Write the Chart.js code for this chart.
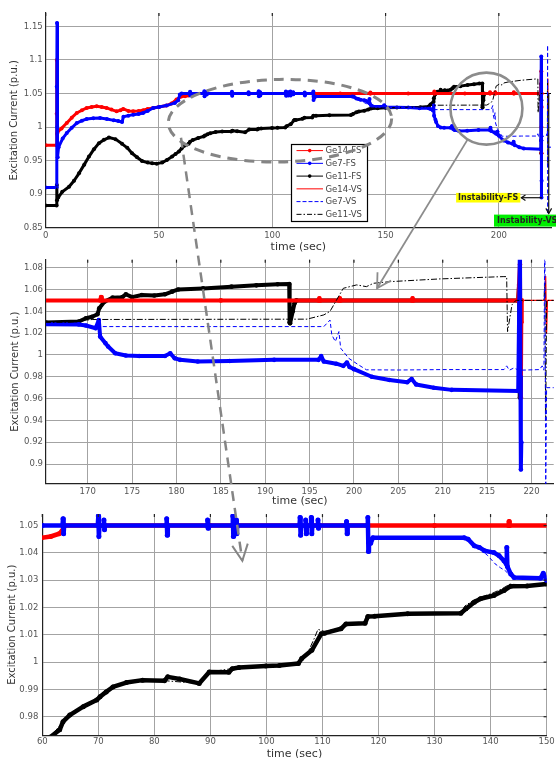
<!DOCTYPE html>
<html><head><meta charset="utf-8">
<script src="https://cdn.jsdelivr.net/npm/chart.js@4.4.1/dist/chart.umd.min.js"></script>
<style>
html,body{margin:0;padding:0;background:#fff;width:556px;height:758px;overflow:hidden;}
canvas{position:absolute;left:0;}
</style></head><body>
<canvas id="c1" width="556" height="258" style="top:0px"></canvas>
<canvas id="c2" width="556" height="262" style="top:250px"></canvas>
<canvas id="c3" width="556" height="258" style="top:505px"></canvas>
<canvas id="ov" width="556" height="758" style="top:0px;pointer-events:none"></canvas>
<script>
// ---------------- data (time [s], excitation current [p.u.]) ----------------
const SERIES_NAMES = ['Ge14-FS','Ge7-FS','Ge11-FS','Ge14-VS','Ge7-VS','Ge11-VS'];
const X_TITLE = 'time (sec)';
const Y_TITLE = 'Excitation Current (p.u.)';

const ge14FS = [[0,0.973],[4.8,0.973],[4.85,1.02],[4.9,1.1],[4.95,1.06],[5.0,0.99],[5.3,0.993],[7.0,0.998],[9.3,1.006],[11.5,1.014],[13.7,1.021],[16.0,1.025],[18.1,1.0285],[20.3,1.030],[22.5,1.031],[24.7,1.030],[26.9,1.0285],[29.0,1.026],[31.3,1.0234],[33.0,1.025],[34.2,1.027],[36.5,1.024],[38.6,1.0234],[41.0,1.024],[43.0,1.025],[45.0,1.027],[47.4,1.0285],[50.0,1.030],[53.3,1.032],[55.5,1.035],[57.7,1.041],[59.9,1.0455],[61.5,1.046],[63.0,1.047],[63.5,1.048],[64.0,1.05],[90,1.05],[118,1.05],[130,1.05],[143.2,1.05],[143.3,1.0515],[143.4,1.05],[160,1.05],[171.4,1.05],[171.5,1.053],[171.6,1.05],[185,1.05],[196.0,1.05],[196.1,1.052],[196.2,1.05],[198.3,1.05],[198.4,1.052],[198.5,1.05],[206.5,1.05],[206.6,1.052],[206.7,1.05],[218.5,1.05],[218.7,1.083],[218.75,1.0],[218.8,0.961],[218.85,1.03],[218.9,1.05]];

const ge7FS = [[0,0.91],[4.8,0.91],[4.9,1.06],[5.0,1.155],[5.1,1.0],[5.3,0.955],[5.7,0.97],[7.5,0.983],[9.3,0.991],[11.5,0.999],[13.7,1.006],[16.0,1.0095],[18.1,1.012],[21.0,1.013],[24.0,1.0135],[27.0,1.012],[30.0,1.010],[32.0,1.009],[33.7,1.0075],[34.3,1.0155],[36.5,1.017],[38.6,1.0185],[41.0,1.0195],[43.0,1.021],[45.0,1.024],[47.4,1.0285],[50.0,1.030],[53.3,1.032],[57.0,1.036],[58.5,1.040],[59.2,1.0485],[60.0,1.05],
[63.6,1.05],[63.7,1.0525],[63.8,1.047],[63.9,1.05],[69.9,1.05],[70.0,1.0535],[70.1,1.046],[70.2,1.05],[70.9,1.05],[71.0,1.052],[71.1,1.0485],[71.2,1.05],[82.1,1.05],[82.2,1.0525],[82.3,1.0465],[82.4,1.05],[89.4,1.05],[89.5,1.052],[89.6,1.049],[89.7,1.05],[93.9,1.05],[94.0,1.0535],[94.1,1.046],[94.2,1.05],[94.5,1.05],[94.6,1.052],[94.7,1.047],[94.8,1.05],[105.9,1.05],[106.0,1.053],[106.1,1.0465],[106.2,1.05],[106.9,1.05],[107.0,1.052],[107.1,1.047],[107.2,1.05],[107.9,1.05],[108.0,1.053],[108.1,1.047],[108.2,1.05],[109.1,1.05],[109.2,1.052],[109.3,1.049],[109.4,1.05],[114.2,1.05],[114.3,1.0515],[114.4,1.047],[114.5,1.05],
[118.0,1.05],[118.1,1.053],[118.2,1.0405],[118.3,1.045],[118.6,1.0435],[119.0,1.0455],[135.3,1.0455],[136.0,1.045],[137.1,1.0426],[138.0,1.042],[138.9,1.0408],[140.6,1.0401],[141.5,1.039],[142.4,1.0371],[142.8,1.036],[142.9,1.042],[143.0,1.035],[143.6,1.0323],[144.2,1.031],[148.9,1.0307],[149.4,1.0325],[150.0,1.030],
[160,1.029],[165,1.0282],[169,1.028],[169.8,1.027],[170.9,1.0245],[171.25,1.032],[171.4,1.0168],[172.0,1.0108],[172.3,1.0077],[173.1,1.0016],[174.3,0.9995],[175.8,0.999],[178.7,0.999],[179.3,1.0015],[179.8,0.997],[180.4,0.9955],[182.4,0.994],[186,0.9945],[191,0.9955],[196,0.9955],[196.3,0.999],[196.6,0.994],[198,0.992],[198.8,0.990],[199.2,0.993],[199.5,0.989],[200,0.987],[202,0.980],[204,0.977],[206,0.975],[206.5,0.978],[207,0.973],[209,0.970],[211,0.968],[218.5,0.967],[218.7,1.105],[218.75,0.98],[218.8,0.895],[218.85,0.92]];

const ge11FS = [[0,0.883],[4.8,0.883],[4.9,0.9135],[5.0,0.891],[5.5,0.895],[7.3,0.9034],[10.3,0.911],[12.5,0.92],[14.7,0.931],[17.0,0.944],[19.1,0.956],[21.3,0.967],[23.5,0.976],[25.7,0.981],[27.9,0.9844],[30.8,0.982],[33.7,0.975],[36.0,0.969],[38.1,0.961],[40.3,0.955],[42.5,0.9495],[45.0,0.947],[47.0,0.946],[49.0,0.9455],[51.4,0.947],[53.5,0.951],[55.8,0.956],[57.3,0.960],[58.8,0.9634],[60.0,0.968],[61.4,0.9725],[63.1,0.9752],[63.7,0.9782],[64.9,0.9806],[67.3,0.9837],[69.7,0.9861],[70.3,0.9873],[71.4,0.9891],[72.6,0.9909],[75.0,0.9925],[77.9,0.9934],[81.8,0.9932],[82.4,0.9946],[84.5,0.9938],[88.0,0.9922],[89.8,0.9964],[93.3,0.9963],[93.9,0.9976],[95.1,0.998],[99.9,0.9986],[102.3,0.9988],[105.7,0.9995],[106.3,1.0013],[108.1,1.0043],[109.8,1.0104],[110.4,1.0106],[113.3,1.0122],[114.2,1.014],[117.6,1.0142],[118.1,1.0167],[119.3,1.0168],[125.2,1.0177],[134.7,1.0179],[135.6,1.0195],[137.1,1.0219],[138.2,1.0232],[140.6,1.0244],[142.4,1.0262],[143.6,1.0278],[146.5,1.0279],[150.0,1.0286],[155.0,1.0293],[165.3,1.0297],[169.0,1.0306],[169.8,1.0337],[170.5,1.035],[171.1,1.0373],[171.3,1.0428],[171.9,1.0489],[172.8,1.0525],[173.9,1.053],[174.3,1.0556],[175.0,1.053],[176.1,1.055],[177.5,1.0545],[178.7,1.0556],[179.5,1.058],[180.2,1.060],[183.0,1.061],[186.2,1.0626],[189.0,1.0638],[191.4,1.0648],[192.7,1.065],[192.75,1.03],[192.8,1.029],[193.1,1.040],[193.3,1.0474],[193.5,1.05],[218.5,1.05],[218.6,1.064],[218.65,0.98],[218.7,0.961],[218.75,1.04]];

const ge14VS = [[0,0.973],[4.8,0.973],[4.85,1.02],[4.9,1.1],[4.95,1.06],[5.0,0.99],[5.3,0.993],[9.3,1.006],[13.7,1.021],[18.1,1.0285],[22.5,1.031],[26.9,1.0285],[31.3,1.0234],[34.2,1.027],[38.6,1.0234],[43.0,1.025],[47.4,1.0285],[53.3,1.032],[57.7,1.041],[59.9,1.0455],[63.0,1.047],[64.0,1.05],[221.5,1.05],[221.6,1.072],[221.7,1.02],[221.8,1.05],[223,1.05]];

const ge7VS = [[0,0.91],[4.8,0.91],[4.9,1.06],[5.0,1.155],[5.1,1.0],[5.3,0.955],[5.7,0.97],[9.3,0.991],[13.7,1.006],[18.1,1.012],[24.0,1.0135],[30.0,1.010],[33.7,1.0075],[34.3,1.0155],[38.6,1.0185],[43.0,1.021],[47.4,1.0285],[53.3,1.032],[57.0,1.036],[59.2,1.0485],[60.0,1.05],[118.0,1.05],[118.2,1.042],[119.0,1.0455],[135.3,1.0455],[137.5,1.0425],[139.5,1.039],[140.8,1.036],[141.8,1.0345],[142.6,1.0335],[143.6,1.0315],[145.0,1.031],[150.0,1.030],[160.0,1.029],[168.0,1.028],[169.5,1.0275],[170.5,1.026],[196.6,1.026],[197.3,1.032],[197.5,1.0184],[197.9,1.0123],[198.3,1.0214],[198.5,1.0062],[199.4,0.997],[200.5,0.991],[201.4,0.9864],[205.0,0.9862],[210.0,0.9866],[216.9,0.9866],[217.2,0.990],[217.5,0.986],[218.0,0.988],[218.6,0.986],[220.9,0.9866],[221.2,0.990],[221.4,0.986],[221.5,1.122],[221.6,0.87],[221.7,0.97],[223,0.97]];

const ge11VS = [[0,0.883],[4.8,0.883],[4.9,0.9135],[5.0,0.891],[7.3,0.9034],[10.3,0.911],[14.7,0.931],[19.1,0.956],[23.5,0.976],[27.9,0.9844],[30.8,0.982],[33.7,0.975],[38.1,0.961],[42.5,0.9495],[47.0,0.946],[51.4,0.947],[55.8,0.956],[58.8,0.9634],[61.4,0.9725],[63.7,0.9782],[67.3,0.9837],[71.4,0.9891],[75.0,0.9925],[81.8,0.9932],[88.0,0.9922],[89.8,0.9964],[95.1,0.998],[102.3,0.9988],[105.7,0.9997],[106.3,1.0015],[107.5,1.004],[108.5,1.0085],[109.2,1.012],[110.4,1.0112],[113.3,1.0125],[114.2,1.014],[117.6,1.0143],[118.1,1.0167],[125.0,1.0177],[134.7,1.0179],[135.4,1.0205],[136.8,1.0225],[138.0,1.0236],[140.3,1.0252],[142.0,1.0268],[143.4,1.0285],[146.5,1.0283],[150.0,1.0288],[160.0,1.0296],[168.0,1.030],[169.0,1.031],[170.5,1.0325],[194.7,1.0328],[196.6,1.0367],[197.3,1.040],[198.8,1.0611],[200.3,1.0642],[201.4,1.0626],[202.2,1.0657],[204.1,1.0672],[209.7,1.0697],[216.8,1.0718],[217.2,1.0718],[217.3,1.0214],[217.8,1.0459],[218.1,1.049],[218.3,1.05],[221.4,1.05],[221.5,1.066],[221.6,0.94],[221.7,1.05],[223,1.05]];

// axis ranges per panel: [min, max, step]
const PANEL_X = [[0,223,50],[165.3,222.5,5],[60,150,10]];
const PANEL_Y = [[0.85,1.17,0.05],[0.882,1.0873,0.02],[0.9732,1.0542,0.01]];

// annotation anchors (data coordinates)
const ELLIPSE = {t:103.4, v:1.0095, rt:49.3, rv:0.0615};
const ARROW1_FROM = [59.7, 0.984];   // panel 1
const ARROW1_TO   = [95.7, 1.0371];  // panel 3
const CIRCLE = {t:194.5, v:1.0275};
const ARROW2_TO = [202.6, 1.0611];   // panel 2
const FS_MARK = {t0:219.0, t1:209.9, v:0.8947, text:'Instability-FS'};
const VS_MARK = {t:222.0, v0:1.05, v1:0.871, text:'Instability-VS'};

// ---------------- styling ----------------
const FONT = 'DejaVu Sans';
const COLORS = ['#ff0000','#0000ff','#000000','#ff0000','#0000ff','#000000'];
const DATA = [ge14FS, ge7FS, ge11FS, ge14VS, ge7VS, ge11VS];
const DASH = [[],[],[],[],[4,2.5],[6,2,1.5,2]];
const ORDER = [6,4,7,5,2,3];
const LW = [3,4,4.5];
const PR = [2,2.3,2.5];

function fmt(v){ return String(parseFloat(Number(v).toFixed(4))); }

function datasets(p){
  return SERIES_NAMES.map((name,i)=>{
    const fs = i < 3;
    return {
      label:name,
      data: DATA[i].map(d=>({x:d[0], y:d[1]})),
      borderColor: COLORS[i],
      backgroundColor: COLORS[i],
      borderWidth: fs ? LW[p] : (i===3 ? 1.2 : 1),
      borderDash: DASH[i],
      pointRadius: fs ? PR[p] : 0,
      pointBorderWidth: 0,
      pointBackgroundColor: COLORS[i],
      pointHoverRadius: 0,
      tension: 0,
      borderJoinStyle:'round',
      borderCapStyle: fs ? 'round' : 'butt',
      order: ORDER[i]
    };
  });
}

const topTicks = {
  id:'topTicks',
  afterDraw(chart, args, opts){
    const ctx = chart.ctx, a = chart.chartArea;
    ctx.save();
    ctx.strokeStyle = '#222'; ctx.lineWidth = 1.2;
    chart.scales.x.ticks.forEach(t=>{
      const x = chart.scales.x.getPixelForValue(t.value);
      ctx.beginPath(); ctx.moveTo(x, a.top); ctx.lineTo(x, a.top+3); ctx.stroke();
    });
    if (opts && opts.right){
      chart.scales.y.ticks.forEach(t=>{
        const y = chart.scales.y.getPixelForValue(t.value);
        ctx.beginPath(); ctx.moveTo(a.right, y); ctx.lineTo(a.right-3, y); ctx.stroke();
      });
    }
    ctx.restore();
  }
};

const legendBox = {
  id:'legendBox',
  afterDraw(chart){
    const ctx = chart.ctx;
    const x0 = 291, y0 = 144, w = 76, h = 77;
    ctx.save();
    ctx.fillStyle = '#fff'; ctx.fillRect(x0,y0,w,h);
    ctx.strokeStyle = '#000'; ctx.lineWidth = 1.2; ctx.strokeRect(x0+0.5,y0+0.5,w,h);
    SERIES_NAMES.forEach((name,i)=>{
      const cy = y0 + 6.6 + i*12.75;
      ctx.strokeStyle = COLORS[i]; ctx.lineWidth = 1;
      ctx.setLineDash(DASH[i].length ? [4,2] : []);
      if (i===5) ctx.setLineDash([5,2,1.5,2]);
      ctx.beginPath(); ctx.moveTo(296.5, cy); ctx.lineTo(323, cy); ctx.stroke();
      ctx.setLineDash([]);
      if (i<3){ ctx.fillStyle = COLORS[i]; ctx.beginPath(); ctx.arc(309.7, cy, 1.8, 0, Math.PI*2); ctx.fill(); }
      ctx.fillStyle = '#444'; ctx.font = '8.5px "'+FONT+'"'; ctx.textBaseline = 'middle'; ctx.textAlign='left';
      ctx.fillText(name, 325.5, cy+0.5);
    });
    ctx.restore();
  }
};

function makeChart(id, p, lay){
  const [xmin,xmax,xs] = PANEL_X[p], [ymin,ymax,ys] = PANEL_Y[p];
  const plugins = [topTicks];
  if (p===0) plugins.push(legendBox);
  return new Chart(document.getElementById(id), {
    type:'line',
    data:{datasets: datasets(p)},
    plugins,
    options:{
      responsive:false, animation:false, events:[],
      layout:{padding:{top:lay.top, right:lay.right, bottom:lay.bottom, left:0}},
      plugins:{legend:{display:false}, tooltip:{enabled:false}, topTicks:{right: p===2}},
      scales:{
        x:{type:'linear', min:xmin, max:xmax,
           ticks:{stepSize:xs, includeBounds:false, autoSkip:false, maxRotation:0, padding:lay.xpad,
                  color:'#555', font:{family:FONT, size:8.5}, callback:fmt},
           grid:{color:'#a3a3a3', lineWidth:1, drawTicks:false},
           border:{display:true, color:'#222', width:1.2},
           title:{display:true, text:X_TITLE, color:'#333', font:{family:FONT, size:11}, padding:{top:0,bottom:0}},
           afterFit(s){ s.height = lay.xh; }},
        y:{type:'linear', min:ymin, max:ymax,
           ticks:{stepSize:ys, includeBounds:false, autoSkip:false, padding:lay.ypad,
                  color:'#555', font:{family:FONT, size:8.5}, callback:fmt},
           grid:{color:'#a3a3a3', lineWidth:1, drawTicks:false},
           border:{display:true, color:'#222', width:1.2},
           title:{display:true, text:Y_TITLE, color:'#333', font:{family:FONT, size:10}, padding:{top:lay.ytp,bottom:0}},
           afterFit(s){ s.width = lay.yw; }}
      }
    }
  });
}

const ch1 = makeChart('c1', 0, {top:13, right:5, bottom:4, xh:26.3, yw:45.7, xpad:2.7, ypad:3, ytp:8});
const ch2 = makeChart('c2', 1, {top:9.7, right:2.3, bottom:4.4, xh:23.9, yw:46, xpad:3.2, ypad:3, ytp:9});
const ch3 = makeChart('c3', 2, {top:8.3, right:7.3, bottom:2.4, xh:25.3, yw:42.3, xpad:1.3, ypad:4, ytp:6});

// ---------------- overlay annotations ----------------
function px(ch, off, t, v){ return [ch.scales.x.getPixelForValue(t), off + ch.scales.y.getPixelForValue(v)]; }
function arrowHead(o, from, tip, len, half){
  const ang = Math.atan2(from[1]-tip[1], from[0]-tip[0]);
  o.beginPath();
  o.moveTo(tip[0] + len*Math.cos(ang+half), tip[1] + len*Math.sin(ang+half));
  o.lineTo(tip[0], tip[1]);
  o.lineTo(tip[0] + len*Math.cos(ang-half), tip[1] + len*Math.sin(ang-half));
  o.stroke();
}
function drawOverlay(){
  const o = document.getElementById('ov').getContext('2d');
  o.lineCap = 'butt';
  // dashed ellipse
  const [ex,ey] = px(ch1,0,ELLIPSE.t,ELLIPSE.v);
  const rx = ch1.scales.x.getPixelForValue(ELLIPSE.t+ELLIPSE.rt) - ex;
  const ry = ey - ch1.scales.y.getPixelForValue(ELLIPSE.v+ELLIPSE.rv);
  o.strokeStyle = '#858585'; o.lineWidth = 3; o.setLineDash([10,7]);
  o.beginPath(); o.ellipse(ex, ey, rx, ry, -0.02, 0, Math.PI*2); o.stroke();
  // dashed arrow to bottom panel
  const a1 = px(ch1,0,ARROW1_FROM[0],ARROW1_FROM[1]);
  const b1 = px(ch3,505,ARROW1_TO[0],ARROW1_TO[1]);
  o.lineWidth = 2.5; o.setLineDash([10,7]);
  o.beginPath(); o.moveTo(a1[0],a1[1]); o.lineTo(b1[0],b1[1]); o.stroke();
  o.setLineDash([]); o.lineWidth = 2;
  arrowHead(o, a1, b1, 18, 0.45);
  // circle
  const [cx,cy] = px(ch1,0,CIRCLE.t,CIRCLE.v);
  const r = 36;
  o.strokeStyle = '#8c8c8c'; o.lineWidth = 2.6;
  o.beginPath(); o.arc(cx, cy, r, 0, Math.PI*2); o.stroke();
  const b2 = px(ch2,250,ARROW2_TO[0],ARROW2_TO[1]);
  const dx = b2[0]-cx, dy = b2[1]-cy, dl = Math.hypot(dx,dy);
  const a2 = [cx + r*dx/dl, cy + r*dy/dl];
  o.lineWidth = 1.8;
  o.beginPath(); o.moveTo(a2[0],a2[1]); o.lineTo(b2[0],b2[1]); o.stroke();
  arrowHead(o, a2, b2, 16, 0.52);
  // Instability-FS
  const f0 = px(ch1,0,FS_MARK.t0,FS_MARK.v), f1 = px(ch1,0,FS_MARK.t1,FS_MARK.v);
  o.strokeStyle = '#111'; o.lineWidth = 1.2;
  o.beginPath(); o.moveTo(f0[0],f0[1]); o.lineTo(f1[0],f1[1]); o.stroke();
  arrowHead(o, f0, f1, 5, 0.6);
  o.font = 'bold 8px "'+FONT+'"'; o.textBaseline = 'middle'; o.textAlign = 'right';
  const tw = o.measureText(FS_MARK.text).width;
  o.fillStyle = '#ffff00'; o.fillRect(f1[0]-2-tw-3, f1[1]-4.8, tw+4, 9.6);
  o.fillStyle = '#222'; o.fillText(FS_MARK.text, f1[0]-3, f1[1]+0.5);
  // Instability-VS
  const g0 = px(ch1,0,VS_MARK.t,VS_MARK.v0), g1 = px(ch1,0,VS_MARK.t,VS_MARK.v1);
  o.strokeStyle = '#111'; o.lineWidth = 1.2;
  o.beginPath(); o.moveTo(g0[0],g0[1]); o.lineTo(g1[0],g1[1]); o.stroke();
  arrowHead(o, g0, g1, 6, 0.5);
  o.textAlign = 'left';
  o.fillStyle = '#00ee00'; o.fillRect(494, g1[1]+1, 70, 12);
  o.fillStyle = '#222'; o.fillText(VS_MARK.text, 497, g1[1]+7.5);
}
drawOverlay();
</script>
</body></html>
